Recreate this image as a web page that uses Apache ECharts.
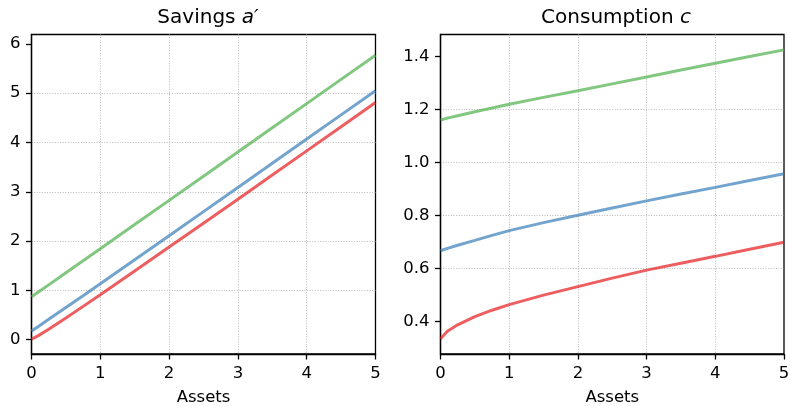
<!DOCTYPE html>
<html>
<head>
<meta charset="utf-8">
<script src="https://cdn.jsdelivr.net/npm/echarts@6/dist/echarts.min.js"></script>
<style>
  html, body { margin: 0; padding: 0; background: #fff; }
  #chart { width: 790px; height: 406px; }
</style>
</head>
<body>
<div id="chart"></div>
<script>
// Asset grid shared by both policy functions
const assets = [0, 0.1, 0.25, 0.5, 0.75, 1, 1.5, 2, 2.5, 3, 3.5, 4, 4.5, 5];

// Savings policy a' for the low / middle / high income states
const savingsLow  = [0.009, 0.083, 0.214, 0.442, 0.676, 0.913, 1.394, 1.878, 2.363, 2.849, 3.340, 3.830, 4.320, 4.810];
const savingsMid  = [0.176, 0.270, 0.413, 0.654, 0.893, 1.133, 1.620, 2.108, 2.598, 3.087, 3.578, 4.069, 4.560, 5.051];
const savingsHigh = [0.870, 0.966, 1.112, 1.356, 1.600, 1.844, 2.335, 2.826, 3.317, 3.807, 4.298, 4.788, 5.280, 5.771];

// Consumption policy c for the same states
const consLow  = [0.335, 0.364, 0.388, 0.419, 0.443, 0.464, 0.500, 0.532, 0.564, 0.594, 0.620, 0.646, 0.673, 0.699];
const consMid  = [0.667, 0.676, 0.688, 0.706, 0.725, 0.743, 0.773, 0.801, 0.828, 0.855, 0.881, 0.906, 0.932, 0.957];
const consHigh = [1.160, 1.167, 1.176, 1.191, 1.205, 1.219, 1.245, 1.270, 1.296, 1.322, 1.348, 1.374, 1.399, 1.424];

// Tick labels
const xTicks = [0, 1, 2, 3, 4, 5];
const savingsTicks = [0, 1, 2, 3, 4, 5, 6];
const consTicks = [0.4, 0.6, 0.8, 1.0, 1.2, 1.4];

const colors = { low: '#e41a1c', mid: '#377eb8', high: '#4daf4a' };
const FONT = 'DejaVu Sans';
const TICK_FONT = 16.5;

const pair = (xs, ys) => xs.map((x, i) => [x, ys[i]]);

function lineSeries(idx, values, color) {
  return {
    type: 'line', xAxisIndex: idx, yAxisIndex: idx,
    data: pair(assets, values), showSymbol: false, smooth: false,
    lineStyle: { color: color, width: 3, opacity: 0.7 },
    itemStyle: { color: color }, silent: true, animation: false, z: 5
  };
}

const gridLine = {
  show: true, showMinLine: false, showMaxLine: false,
  lineStyle: { color: '#b0b0b0', width: 0.9, type: [1, 1.6] }
};

function xAxis(idx) {
  return {
    type: 'value', gridIndex: idx, min: 0, max: 5, interval: 1,
    name: 'Assets', nameLocation: 'middle', nameGap: 35,
    nameTextStyle: { fontFamily: FONT, fontSize: 16.5, color: '#000' },
    axisLine: { show: true, onZero: false, lineStyle: { color: '#000', width: 1.3 } },
    axisTick: { show: true, length: 5.5, lineStyle: { color: '#000', width: 1.3 } },
    axisLabel: { fontFamily: FONT, fontSize: TICK_FONT, color: '#000', margin: 11,
                 customValues: xTicks, formatter: v => String(v) },
    splitLine: gridLine
  };
}

function yAxis(idx, min, max, ticks, fmt) {
  return {
    type: 'value', gridIndex: idx, min: min, max: max,
    axisLine: { show: true, onZero: false, lineStyle: { color: '#000', width: 1.3 } },
    axisTick: { show: true, length: 5.5, customValues: ticks, lineStyle: { color: '#000', width: 1.3 } },
    axisLabel: { fontFamily: FONT, fontSize: TICK_FONT, color: '#000', margin: 11,
                 customValues: ticks, formatter: fmt },
    splitLine: gridLine
  };
}

const titleStyle = {
  fontFamily: FONT, fontSize: 20, fontWeight: 'normal', color: '#000',
  rich: { i: { fontFamily: FONT, fontSize: 20, fontStyle: 'italic', color: '#000' } }
};

const gridBase = {
  top: 34.5, height: 319.5, show: true, borderColor: '#000', borderWidth: 1.3,
  backgroundColor: 'transparent', containLabel: false, outerBoundsMode: 'none'
};

const chart = echarts.init(document.getElementById('chart'), null, { renderer: 'canvas' });
chart.setOption({
  animation: false,
  backgroundColor: '#fff',
  title: [
    { text: 'Savings {i|a′}', left: 203, top: 3, textAlign: 'center', textStyle: titleStyle },
    { text: 'Consumption {i|c}', left: 611, top: 3, textAlign: 'center', textStyle: titleStyle }
  ],
  grid: [
    Object.assign({ left: 31.5, width: 344 }, gridBase),
    Object.assign({ left: 440.5, width: 343.5 }, gridBase)
  ],
  xAxis: [xAxis(0), xAxis(1)],
  yAxis: [
    yAxis(0, -0.29, 6.19, savingsTicks, v => String(v)),
    yAxis(1, 0.278, 1.482, consTicks, v => v.toFixed(1))
  ],
  series: [
    lineSeries(0, savingsLow, colors.low),
    lineSeries(0, savingsMid, colors.mid),
    lineSeries(0, savingsHigh, colors.high),
    lineSeries(1, consLow, colors.low),
    lineSeries(1, consMid, colors.mid),
    lineSeries(1, consHigh, colors.high)
  ]
});
</script>
</body>
</html>
